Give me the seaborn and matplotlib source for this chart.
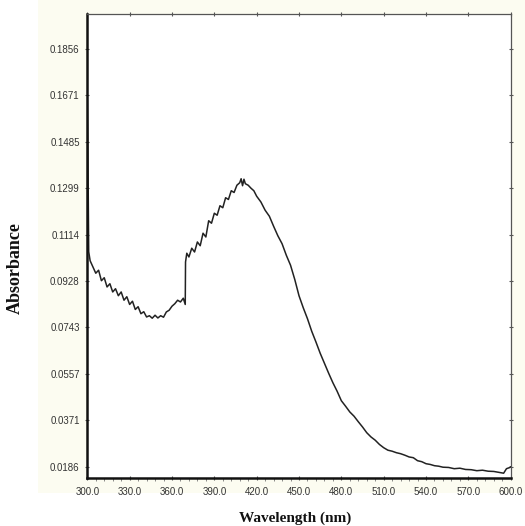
import numpy as np
import pandas as pd
import matplotlib
matplotlib.use("Agg")
import matplotlib.pyplot as plt
import seaborn as sns
from matplotlib.patches import Rectangle
from matplotlib.ticker import MultipleLocator

wavelength = [300.0, 300.4, 301.0, 302, 304, 306, 308, 310, 312, 314, 316, 318, 320, 322, 324,
              326, 328, 330, 332, 334, 336, 338, 340, 342, 344, 346, 348, 350, 352, 354, 356,
              358, 360, 362, 364, 366, 368, 369.4, 369.6, 370.5, 372, 374, 376, 378, 380, 382,
              384, 386, 388, 390, 392, 394, 396, 398, 400, 402, 404, 406, 408, 409, 410, 411,
              412, 414, 416, 418, 420, 423, 426, 429, 432, 435, 438, 441, 444, 447, 450, 453,
              456, 459, 462, 465, 468, 471, 474, 477, 480, 483, 486, 489, 492, 495, 498, 501,
              504, 507, 510, 513, 516, 519, 522, 525, 528, 531, 534, 537, 540, 543, 546, 549,
              552, 556, 560, 564, 568, 572, 576, 580, 584, 588, 592, 595, 597, 599, 600]
absorbance = [0.1653, 0.1453, 0.1046, 0.1010, 0.0985, 0.0960, 0.0972, 0.0930, 0.0942, 0.0905,
              0.0918, 0.0885, 0.0898, 0.0870, 0.0885, 0.0852, 0.0866, 0.0835, 0.0848, 0.0815,
              0.0826, 0.0798, 0.0806, 0.0785, 0.0790, 0.0780, 0.0792, 0.0781, 0.0790, 0.0784,
              0.0805, 0.0812, 0.0828, 0.0838, 0.0852, 0.0845, 0.0860, 0.0835, 0.1005, 0.1040,
              0.1025, 0.1060, 0.1045, 0.1085, 0.1070, 0.1120, 0.1105, 0.1170, 0.1160, 0.1200,
              0.1192, 0.1230, 0.1222, 0.1262, 0.1255, 0.1290, 0.1283, 0.1312, 0.1322, 0.1338,
              0.1310, 0.1336, 0.1318, 0.1312, 0.1300, 0.1290, 0.1268, 0.1245, 0.1212, 0.1188,
              0.1148, 0.1110, 0.1078, 0.1032, 0.0992, 0.0935, 0.0870, 0.0822, 0.0778, 0.0728,
              0.0685, 0.0640, 0.0600, 0.0560, 0.0522, 0.0488, 0.0450, 0.0428, 0.0405, 0.0388,
              0.0366, 0.0345, 0.0322, 0.0305, 0.0292, 0.0275, 0.0262, 0.0252, 0.0248, 0.0242,
              0.0238, 0.0232, 0.0225, 0.0222, 0.0210, 0.0206, 0.0198, 0.0195, 0.0190, 0.0188,
              0.0184, 0.0183, 0.0178, 0.0180, 0.0175, 0.0174, 0.0170, 0.0172, 0.0168, 0.0167,
              0.0163, 0.0160, 0.0178, 0.0182, 0.0186]

x_ticks = [300, 330, 360, 390, 420, 450, 480, 510, 540, 570, 600]
x_tick_labels = ["300.0", "330.0", "360.0", "390.0", "420.0", "450.0", "480.0", "510.0",
                 "540.0", "570.0", "600.0"]
y_ticks = [0.0186, 0.0371, 0.0557, 0.0743, 0.0928, 0.1114, 0.1299, 0.1485, 0.1671, 0.1856]
y_tick_labels = ["0.0186", "0.0371", "0.0557", "0.0743", "0.0928", "0.1114", "0.1299",
                 "0.1485", "0.1671", "0.1856"]

df = pd.DataFrame({"Wavelength": wavelength, "Absorbance": absorbance})

sns.set_theme(style="ticks")
plt.rcParams["font.family"] = ["Liberation Sans", "DejaVu Sans"]

fig = plt.figure(figsize=(5.25, 5.26), dpi=100, facecolor="white")
bg = Rectangle((38 / 525, 1 - 493 / 526), 1 - 38 / 525, 493 / 526,
               transform=fig.transFigure, facecolor="#fcfcf1", edgecolor="none", zorder=-5)
fig.patches.append(bg)
ax = fig.add_axes([87.3 / 525, 1 - 477.7 / 526, (510.7 - 87.3) / 525, (477.7 - 14) / 526])
ax.set_zorder(1)
ax.set_facecolor("white")

sns.lineplot(data=df, x="Wavelength", y="Absorbance", ax=ax, sort=False, estimator=None,
             color="#222222", linewidth=1.1)

ax.set_xlim(300, 600)
ax.set_ylim(0.0142, 0.1997)
ax.set_xticks(x_ticks)
ax.set_xticklabels(x_tick_labels)
ax.set_yticks(y_ticks)
ax.set_yticklabels(y_tick_labels)
ax.xaxis.set_minor_locator(MultipleLocator(6))

ax.tick_params(axis="both", which="major", labelsize=7, colors="#555555",
               labelcolor="#333333", length=3, width=0.8)
ax.tick_params(axis="x", which="major", direction="inout", top=True, pad=5)
ax.tick_params(axis="x", which="minor", direction="out", length=2, width=0.6,
               colors="#777777", top=False)
ax.tick_params(axis="y", which="major", direction="inout", right=True, pad=4)

for side in ["left", "bottom"]:
    ax.spines[side].set_linewidth(1.8)
    ax.spines[side].set_color("#111111")
for side in ["top", "right"]:
    ax.spines[side].set_visible(True)
    ax.spines[side].set_linewidth(0.9)
    ax.spines[side].set_color("#555555")

ax.set_xlabel("")
ax.set_ylabel("")
fig.text(295 / 525, 1 - 518 / 526, "Wavelength (nm)", ha="center", va="center",
         fontsize=11, fontweight="bold", family=["Liberation Serif", "DejaVu Serif"],
         color="#111111")
fig.text(15 / 525, 1 - 268 / 526, "Absorbance", ha="center", va="center", rotation=90,
         fontsize=13, fontweight="bold", family=["Liberation Serif", "DejaVu Serif"],
         color="#111111")

fig.savefig("out.png", dpi=100, facecolor=fig.get_facecolor())
